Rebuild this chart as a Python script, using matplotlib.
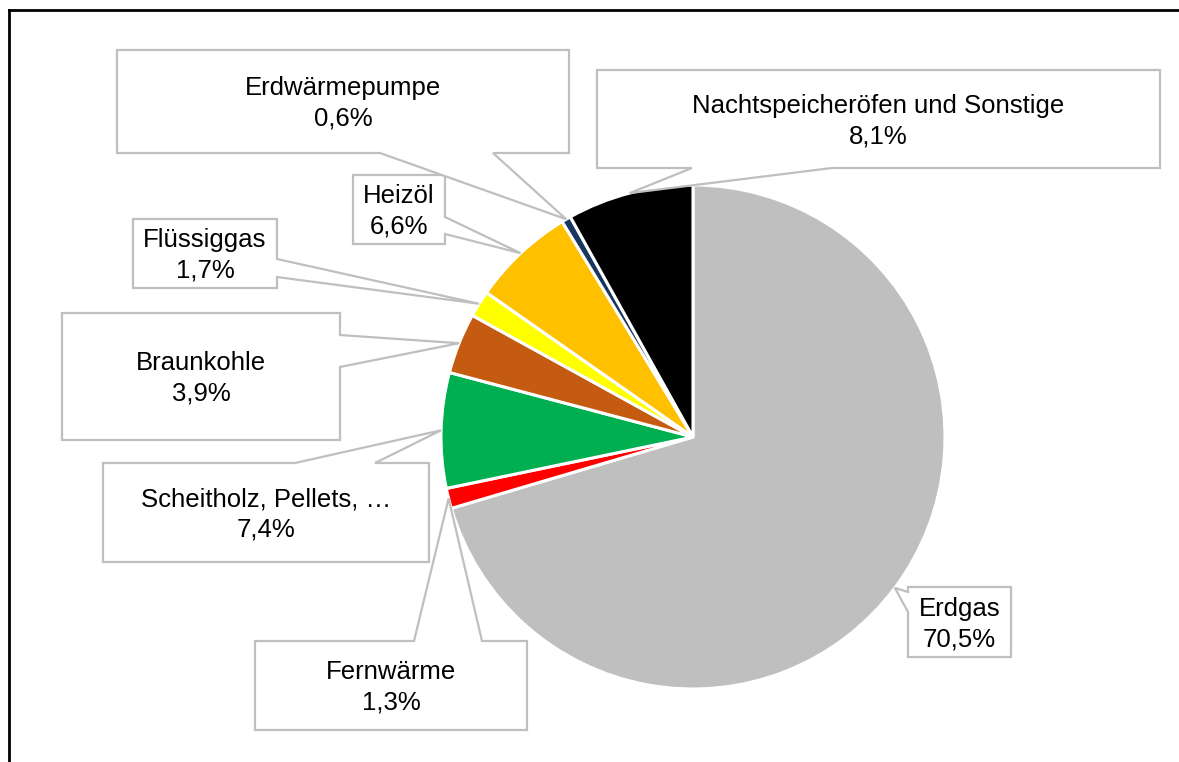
import numpy as np
import matplotlib
matplotlib.use("Agg")
import matplotlib.pyplot as plt
from matplotlib.patches import Polygon

plt.rcParams['font.family'] = ['Liberation Sans', 'DejaVu Sans']

# data (clockwise from 12 o'clock)
labels = ["Erdgas", "Fernwärme", "Scheitholz, Pellets, …", "Braunkohle",
          "Flüssiggas", "Heizöl", "Erdwärmepumpe", "Nachtspeicheröfen und Sonstige"]
shares = [70.5, 1.3, 7.4, 3.9, 1.7, 6.6, 0.6, 8.1]
colors = ["#BFBFBF", "#FF0000", "#00B050", "#C55A11",
          "#FFFF00", "#FFC000", "#17375E", "#000000"]

W, H = 1179, 762
cx, cy, R = 693, 437, 252   # pie centre / radius in pixels (y down)

# callout boxes: (x0, y0, x1, y1), side of the pointer, pointer base (a, b)
boxes = [
    ((908, 587, 1011, 657), "left", (592, 612)),
    ((255, 641, 527, 730), "top", (414, 482)),
    ((103, 463, 429, 562), "top", (295, 375)),
    ((62, 313, 340, 440), "right", (335, 367)),
    ((133, 219, 277, 288), "right", (259, 277)),
    ((353, 175, 445, 244), "right", (217, 234)),
    ((117, 50, 569, 153), "bottom", (380, 493)),
    ((597, 70, 1160, 168), "bottom", (692, 832)),
]


def py(y):
    return H - y


fig = plt.figure(figsize=(W / 100, H / 100), dpi=100)
ax = fig.add_axes([0, 0, 1, 1])

ax.pie(shares, colors=colors, startangle=90, counterclock=False,
       radius=R, center=(cx, py(cy)),
       wedgeprops=dict(edgecolor="white", linewidth=2.2))

# slice mid angles -> pointer tips
frac = np.array(shares) / sum(shares)
cum = np.concatenate([[0], np.cumsum(frac)])
mids = 90 - 360 * (cum[:-1] + cum[1:]) / 2

for i, ((x0, y0, x1, y1), side, (a, b)) in enumerate(boxes):
    ang = np.deg2rad(mids[i])
    tx = cx + R * np.cos(ang)
    ty = cy - R * np.sin(ang)
    tip = (tx, ty)
    if side == "top":
        pts = [(x0, y0), (a, y0), tip, (b, y0), (x1, y0), (x1, y1), (x0, y1)]
    elif side == "right":
        pts = [(x0, y0), (x1, y0), (x1, a), tip, (x1, b), (x1, y1), (x0, y1)]
    elif side == "bottom":
        pts = [(x0, y0), (x1, y0), (x1, y1), (b, y1), tip, (a, y1), (x0, y1)]
    else:
        pts = [(x0, y0), (x1, y0), (x1, y1), (x0, y1), (x0, b), tip, (x0, a)]
    pts = [(x, py(y)) for x, y in pts]
    ax.add_patch(Polygon(pts, closed=True, facecolor="white",
                         edgecolor="#BFBFBF", linewidth=1.6, zorder=5))
    txt = labels[i] + "\n" + f"{shares[i]:.1f}%".replace(".", ",")
    ax.text((x0 + x1) / 2, py((y0 + y1) / 2 + 2), txt, ha="center", va="center",
            fontsize=18.5, color="#000000", linespacing=1.32, zorder=6)

# outer frame
ax.plot([9, 9], [py(10), py(H + 5)], color="black", lw=2, zorder=7)
ax.plot([9, W + 5], [py(10), py(10)], color="black", lw=2, zorder=7)

ax.set_xlim(0, W)
ax.set_ylim(0, H)
ax.set_aspect("auto")
ax.axis("off")

fig.savefig("out.png", dpi=100)
